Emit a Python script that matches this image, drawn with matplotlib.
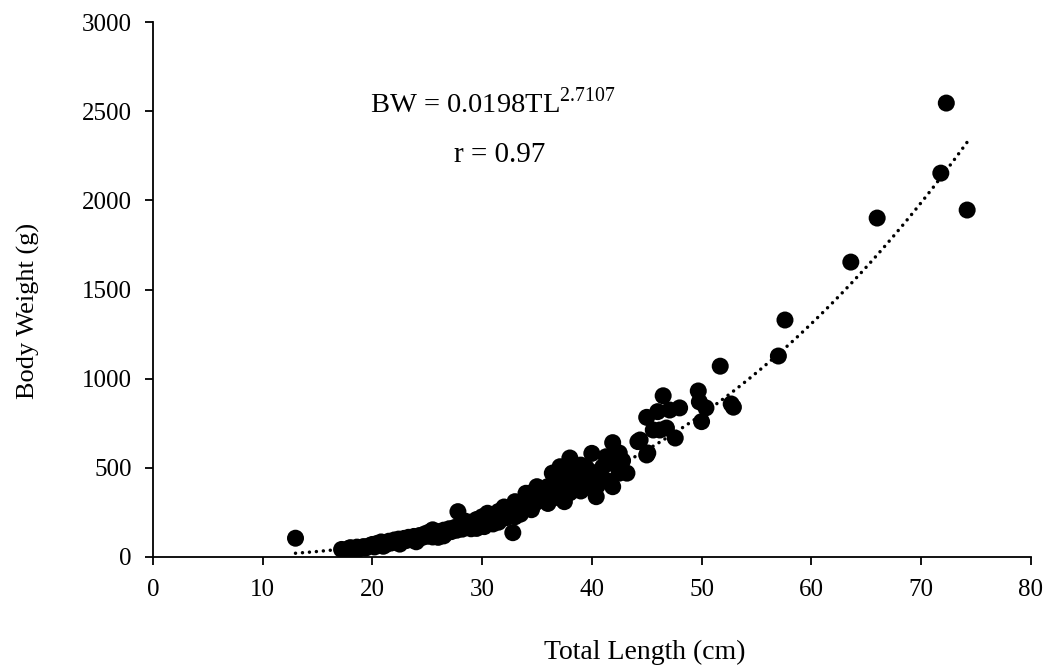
import numpy as np
import matplotlib.pyplot as plt

plt.rcParams['font.family'] = ['Liberation Serif', 'DejaVu Serif']
plt.rcParams['mathtext.fontset'] = 'custom'
plt.rcParams['mathtext.rm'] = 'Liberation Serif'

# Total length (cm) and body weight (g)
tl = [13.0,
      17.2, 17.5, 17.8, 18.0, 18.3, 18.6, 18.9, 19.2, 19.4, 19.7,
      20.0, 20.2, 20.4, 20.6, 20.8, 21.0, 21.2, 21.5, 21.7, 22.0,
      22.2, 22.4, 22.6, 22.9, 23.1, 23.3, 23.6, 23.8, 24.0, 24.3,
      24.5, 24.8, 25.0, 25.2, 25.5, 25.5, 25.7, 26.0, 26.2, 26.5,
      26.5, 26.8, 27.0, 27.2, 27.5, 27.7, 27.8, 28.0, 28.2, 28.5,
      28.5, 28.8, 29.0, 29.0, 29.2, 29.5, 29.7, 30.0, 30.0, 30.2,
      30.5, 30.5, 30.8, 31.0, 31.2, 31.5, 31.5, 31.7, 32.0, 32.0,
      32.2, 32.5, 32.8, 32.8, 33.0, 33.0, 33.2, 33.5, 33.5, 33.7,
      34.0, 34.0, 34.3, 34.5, 34.5, 34.8, 35.0, 35.0, 35.3, 35.5,
      35.8, 36.0, 36.2, 36.4, 36.6, 36.8, 37.1, 37.2, 37.4, 37.6,
      37.8, 38.0, 38.2, 38.3, 38.5, 38.7, 38.9, 39.0, 39.3, 39.5,
      39.7, 40.0, 40.0, 40.2, 40.4, 40.7, 41.0, 41.3, 41.5, 41.9,
      41.9, 42.2, 42.5, 42.5, 42.8, 43.2,
      21.0, 22.5, 24.0, 26.0, 29.5, 31.0, 33.0, 34.5, 36.0, 36.5,
      37.5, 38.0, 39.0, 40.5,
      44.2, 44.4, 45.0, 45.0, 45.1, 45.6, 46.0, 46.2, 46.5, 46.8,
      47.1, 47.6, 48.0, 49.7, 49.8, 50.0, 50.4, 51.7, 52.7, 52.9,
      57.0, 57.6, 63.6, 66.0, 71.8, 72.3, 74.2]
bw = [105,
      42, 36, 46, 52, 40, 55, 47, 58, 50, 62,
      70, 56, 75, 66, 84, 74, 68, 88, 78, 95,
      82, 100, 88, 104, 92, 110, 96, 115, 104, 120,
      108, 130, 116, 140, 112, 152, 126, 142, 124, 150,
      118, 136, 158, 142, 165, 150, 254, 175, 156, 200,
      178, 166, 195, 158, 180, 210, 186, 225, 198, 170,
      245, 215, 200, 238, 212, 255, 195, 228, 280, 245,
      220, 270, 136, 250, 310, 282, 258, 300, 240, 272,
      357, 315, 288, 360, 330, 300, 394, 345, 320, 368,
      338, 395, 352, 470, 410, 362, 506, 430, 338, 450,
      392, 555, 465, 394, 490, 412, 432, 515, 455, 500,
      420, 581, 475, 385, 338, 452, 505, 562, 425, 641,
      394, 525, 583, 470, 540, 470,
      60, 72, 85, 110, 160, 185, 225, 265, 300, 330,
      310, 360, 370, 400,
      647, 656, 783, 572, 583, 712, 815, 712, 904, 723,
      824, 667, 836, 931, 870, 759, 836, 1070, 858, 840,
      1127, 1329, 1654, 1901, 2153, 2546, 1946]

# power fit shown on the chart: BW = a * TL^b
a_fit = 0.0198
b_fit = 2.7107
fit_range = [13.0, 74.2]

fig = plt.figure(figsize=(10.54, 6.71), dpi=100)
ax = fig.add_axes([0.145, 0.170, 0.833, 0.797])

ax.scatter(tl, bw, s=150, color='black', edgecolors='none', zorder=3)

xs = np.linspace(fit_range[0], fit_range[1], 200)
ax.plot(xs, a_fit * xs ** b_fit, color='black', lw=2.5,
        ls=(0, (0.01, 2.0)), dash_capstyle='round', zorder=2)

ax.set_xlim(0, 80)
ax.set_ylim(0, 3000)
ax.set_xticks(range(0, 81, 10))
ax.set_yticks(range(0, 3001, 500))
for side in ['top', 'right']:
    ax.spines[side].set_visible(False)
for side in ['left', 'bottom']:
    ax.spines[side].set_linewidth(1.3)
ax.tick_params(direction='out', length=6, width=1.3, labelsize=18)
ax.tick_params(axis='x', pad=10)
ax.tick_params(axis='y', pad=9)

ax.set_xlabel('Total Length (cm)', fontsize=20)
ax.set_ylabel('Body Weight (g)', fontsize=19)
ax.xaxis.set_label_coords(0.56, -0.155)
ax.yaxis.set_label_coords(-0.128, 0.46)

ax.text(19.8, 2490, r'BW = 0.0198TL$^{\mathrm{2.7107}}$', fontsize=20.5, va='baseline')
ax.text(27.4, 2215, 'r = 0.97', fontsize=21, va='baseline')

fig.savefig('out.png', dpi=100)
